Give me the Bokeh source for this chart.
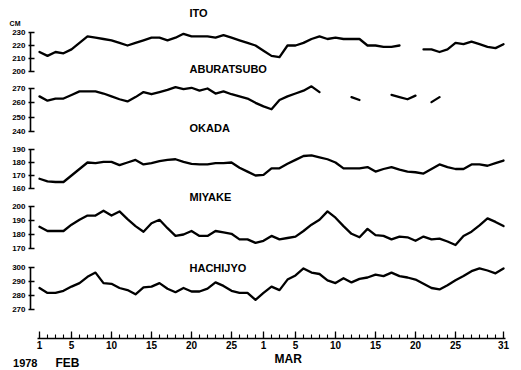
from bokeh.plotting import figure
from bokeh.layouts import column
from bokeh.models import Range1d, LinearAxis, FixedTicker, Label, ColumnDataSource
from bokeh.embed import file_html
from bokeh.resources import INLINE

nan = float("nan")

# day index: Feb 1 = 1 ... Feb 28 = 28, Mar 1 = 29 ... Mar 31 = 59
days = list(range(1, 60))

ito = [215, 212, 215, 214, 217, 222, 227, 226, 225, 224,
       222, 220, 222, 224, 226, 226, 224, 226, 229, 227,
       227, 227, 226, 228, 226, 224, 222, 220, 216, 212,
       211, 220, 220, 222, 225, 227, 225, 226, 225, 225,
       225, 220, 220, 219, 219, 220, nan, nan, 217, 217,
       215, 217, 222, 221, 223, 221, 219, 218, 221]

aburatsubo = [264.5, 261.5, 263, 263, 265.5, 268, 268, 268, 266.5, 264.5,
              262.5, 261, 264, 267.5, 266, 267.5, 269, 271, 269.5, 270.5,
              268.5, 270, 266.5, 268, 266, 264.5, 263, 260, 257.5, 255.5,
              262, 264.5, 266.5, 268.5, 271.5, 267.5, nan, nan, nan, 264,
              262, nan, nan, nan, 265.5, 264, 262.5, 265, nan, 260.5,
              264, nan, nan, nan, nan, nan, nan, nan, nan]

okada = [167.5, 165.5, 165, 165, 170, 175, 180, 179.5, 180.5, 180.5,
         178, 180, 182, 178.5, 179.5, 181, 182, 182.5, 180.5, 179,
         178.5, 178.5, 179.5, 179.5, 180, 176, 173, 170, 170.5, 175.5,
         175.5, 179, 182, 185, 185.5, 184, 182.5, 180, 175.5, 175.5,
         175.5, 176.5, 173, 175, 176.5, 174.5, 173, 172.5, 171.5, 175,
         178.5, 176.5, 175, 175, 178.5, 178.5, 177.5, 179.5, 181.5]

miyake = [185.5, 182.5, 182.5, 182.5, 187, 190.5, 193.5, 193.5, 197, 193.5,
          196.5, 191, 186, 182, 188, 190.5, 184.5, 179, 180, 182.5,
          179, 179, 182.5, 181.5, 180.5, 176.5, 176.5, 174, 175.5, 179,
          176.5, 177.5, 178.5, 182.5, 187, 190.5, 196.5, 192, 186, 180.5,
          178, 184, 179.5, 179, 176.5, 178.5, 178, 175.5, 178.5, 176.5,
          177, 175, 172.5, 179, 182, 186.5, 191.5, 189, 186]

hachijyo = [285, 281.5, 281.5, 283, 286, 288.5, 293, 296, 288.5, 288,
            285, 283.5, 280.5, 285.5, 286, 288.5, 284.5, 282, 285, 282.5,
            282.5, 284.5, 289, 286.5, 283, 281.5, 281.5, 276.5, 281.5, 286,
            283.5, 291, 294, 299, 296, 295, 290.5, 288.5, 292, 289,
            291.5, 292.5, 294.5, 293.5, 296, 293.5, 292.5, 291, 288, 285,
            284, 287, 290.5, 293.5, 297, 299, 297.5, 295.5, 299]

station_names = ["ITO", "ABURATSUBO", "OKADA", "MIYAKE", "HACHIJYO"]

ito_ticks = [200, 210, 220, 230]
abu_ticks = [240, 250, 260, 270]
oka_ticks = [160, 170, 180, 190]
miy_ticks = [170, 180, 190, 200]
hac_ticks = [270, 280, 290, 300]

x_major = [1, 5, 10, 15, 20, 25, 29, 33, 38, 43, 48, 53, 59]
x_major_labels = ["1", "5", "10", "15", "20", "25", "1", "5", "10", "15", "20", "25", "31"]

FONT = "Liberation Sans"
W = 519
LEFT = 30
RIGHT = 9
PX_PER_DAY = 8.0
x_start = 1 - 9 / PX_PER_DAY
xr = Range1d(x_start, x_start + (W - LEFT - RIGHT) / PX_PER_DAY)


def base_fig(height, xrange, yr):
    p = figure(width=W, height=height, x_range=xrange, y_range=yr,
               x_axis_location=None, y_axis_location=None,
               toolbar_location=None, output_backend="svg",
               min_border_left=LEFT, min_border_right=RIGHT,
               min_border_top=0, min_border_bottom=0,
               title_location=None, background_fill_color="white",
               border_fill_color="white")
    p.outline_line_color = None
    p.xgrid.visible = False
    p.ygrid.visible = False
    return p


def make_panel(vals, ticks, top, bottom, yhi, ylo):
    vlo, vhi = ticks[0], ticks[-1]
    s = (ylo - yhi) / (vhi - vlo)
    start = vlo - (bottom - ylo) / s
    end = vhi + (yhi - top) / s
    p = base_fig(bottom - top, xr, Range1d(start, end))
    src = ColumnDataSource(dict(x=days, y=vals))
    p.line("x", "y", source=src, line_color="black", line_width=2.3,
           line_join="round", line_cap="round")
    ax = LinearAxis(ticker=FixedTicker(ticks=ticks), bounds=(vlo, vhi))
    ax.axis_line_width = 1.6
    ax.major_tick_line_width = 1.5
    ax.major_tick_in = 4
    ax.major_tick_out = 2
    ax.minor_tick_line_color = None
    ax.major_label_standoff = 3
    ax.major_label_text_font = FONT
    ax.major_label_text_font_style = "bold"
    ax.major_label_text_font_size = "8px"
    ax.major_label_text_color = "black"
    p.add_layout(ax, "left")

    def yv(page_y):
        return vhi - (page_y - yhi) / s
    return p, yv


def page_fig(top, bottom):
    # strip in pixel coordinates of the page (frame spans LEFT .. W-RIGHT)
    return base_fig(bottom - top, Range1d(LEFT, W - RIGHT), Range1d(bottom, top))


def txt(fig, x, y, text, size, align="left"):
    fig.add_layout(Label(x=x, y=y, text=text, text_font=FONT,
                         text_font_style="bold", text_font_size=size,
                         text_align=align, text_baseline="middle",
                         text_color="black"))


def side_text(fig, y, text, size, standoff):
    # text left of the frame, drawn as the single label of a bare left axis
    ax = LinearAxis(ticker=FixedTicker(ticks=[y]))
    ax.major_label_overrides = {y: text}
    ax.axis_line_color = None
    ax.major_tick_line_color = None
    ax.minor_tick_line_color = None
    ax.major_tick_in = 0
    ax.major_tick_out = 0
    ax.major_label_standoff = standoff
    ax.major_label_text_font = FONT
    ax.major_label_text_font_style = "bold"
    ax.major_label_text_font_size = size
    ax.major_label_text_color = "black"
    fig.add_layout(ax, "left")


# top strip: first title and unit
f0 = page_fig(0, 27)
txt(f0, 189, 12.5, station_names[0], "11px")
side_text(f0, 23, "CM", "7px", 10)

f1, m1 = make_panel(ito, ito_ticks, 27, 78, 32, 71)
f2, m2 = make_panel(aburatsubo, abu_ticks, 78, 137, 88, 131)
f3, m3 = make_panel(okada, oka_ticks, 137, 201, 149, 188)
f4, m4 = make_panel(miyake, miy_ticks, 201, 257, 206, 248)
f5, m5 = make_panel(hachijyo, hac_ticks, 257, 318, 266.5, 308.5)

title_x = 1 + (189 - 39) / PX_PER_DAY
txt(f1, title_x, m1(68), station_names[1], "11px")
txt(f2, title_x, m2(127), station_names[2], "11px")
txt(f3, title_x, m3(196), station_names[3], "11px")
txt(f5, title_x, m5(267), station_names[4], "11px")

# bottom axis figure
f6 = base_fig(34, xr, Range1d(0, 20))
f6.min_border_bottom = 14
xa = LinearAxis(ticker=FixedTicker(ticks=x_major, minor_ticks=days),
                bounds=(0.75, 59.25))
xa.major_label_overrides = {t: l for t, l in zip(x_major, x_major_labels)}
xa.axis_line_width = 1.6
xa.major_tick_in = 7
xa.major_tick_out = 0
xa.minor_tick_in = 4
xa.minor_tick_out = 0
xa.major_tick_line_width = 1.3
xa.minor_tick_line_width = 1.1
xa.minor_tick_line_color = "black"
xa.major_label_standoff = 2
xa.major_label_text_font = FONT
xa.major_label_text_font_style = "bold"
xa.major_label_text_font_size = "10px"
xa.major_label_text_color = "black"
f6.add_layout(xa, "below")

# bottom strip: year and month names
f7 = page_fig(352, 369)
side_text(f7, 362, "1978", "11px", -7)
txt(f7, 55, 362, "FEB", "12px")
txt(f7, 274, 358, "MAR", "12px")

layout = column(f0, f1, f2, f3, f4, f5, f6, f7, spacing=0)
open("out.html", "w").write(file_html(layout, INLINE))
